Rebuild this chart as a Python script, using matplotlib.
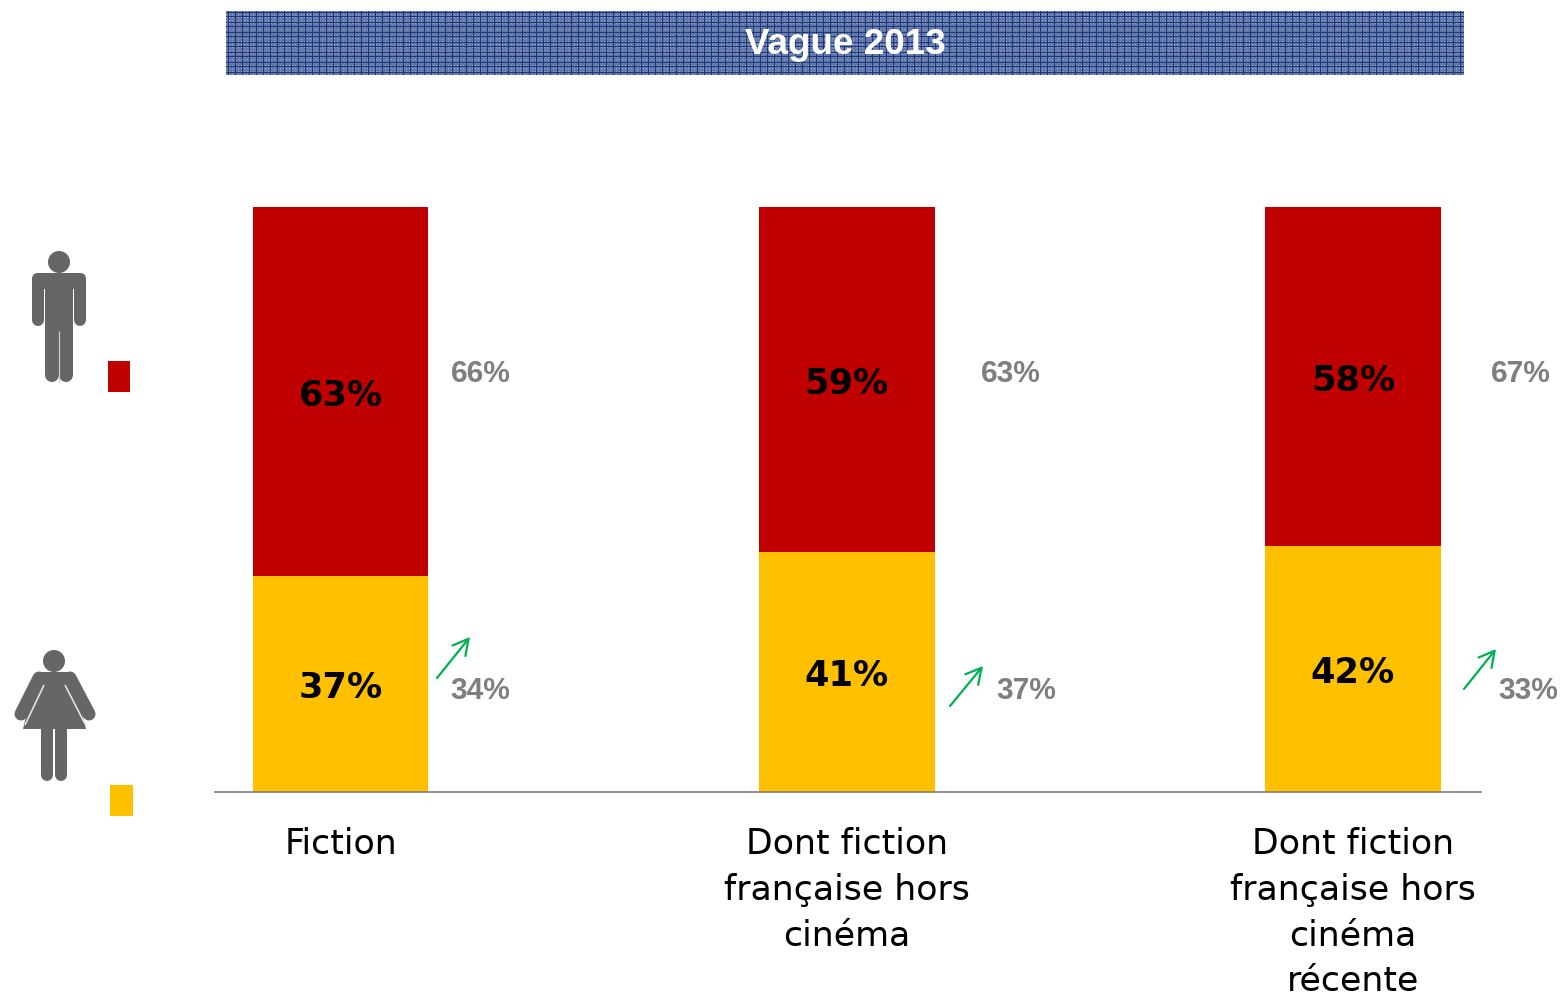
import numpy as np
import matplotlib
matplotlib.use('Agg')
import matplotlib.pyplot as plt
from matplotlib.patches import Circle, FancyBboxPatch, Polygon, Rectangle

plt.rcParams['text.hinting'] = 'no_autohint'

categories = ['Fiction', 'Dont fiction\nfrançaise hors\ncinéma', 'Dont fiction\nfrançaise hors\ncinéma\nrécente']
women = [37, 41, 42]
men = [63, 59, 58]
women_prev = [34, 37, 33]
men_prev = [66, 63, 67]

W, H = 1561, 997
RED = '#C00000'
YELLOW = '#FFC000'
GREY = '#7F7F7F'
ICON = '#666666'
GREEN = '#00B050'

fig = plt.figure(figsize=(W / 100, H / 100), dpi=100)

# axes principal : barres empilees
ax = fig.add_axes([215 / W, 1 - 792 / H, (1481 - 215) / W, (792 - 207) / H])
x = np.arange(len(categories))
ax.bar(x, women, width=0.347, color=YELLOW)
ax.bar(x, men, width=0.347, bottom=women, color=RED)
ax.set_xlim(-0.248, 2.253)
ax.set_ylim(0, 100)
ax.set_yticks([])
ax.set_xticks(x)
ax.set_xticklabels(categories, fontsize=25, family='DejaVu Sans', linespacing=1.435)
ax.tick_params(axis='x', length=0, pad=25.3)
for s in ['top', 'left', 'right']:
    ax.spines[s].set_visible(False)
ax.spines['bottom'].set_color('#7F7F7F')
ax.spines['bottom'].set_linewidth(1.2)

for i in range(len(x)):
    ax.text(x[i], women[i] / 2 - 0.7, f'{women[i]}%', ha='center', va='center',
            fontsize=25.3, fontweight='bold', color='black')
    ax.text(x[i], women[i] + men[i] / 2 - 0.8, f'{men[i]}%', ha='center', va='center',
            fontsize=25.3, fontweight='bold', color='black')

# calque en pixels pour le bandeau, les icones et les fleches
ov = fig.add_axes([0, 0, 1, 1], facecolor='none')
ov.set_xlim(0, W)
ov.set_ylim(H, 0)
ov.axis('off')

# bandeau titre (trame)
bw, bh = 1238, 64
tex = np.zeros((bh, bw, 3))
yy, xx = np.mgrid[0:bh, 0:bw]
tex[:] = (0.38, 0.46, 0.65)
tex[(xx % 3 == 0) & (yy % 3 == 0)] = (0.60, 0.65, 0.77)
tex[(xx % 3 == 1) & (yy % 3 == 1)] = (0.50, 0.56, 0.72)
tex[(xx % 14 == 2) | (xx % 14 == 9)] = (0.10, 0.22, 0.50)
tex[(yy % 10 == 1) | (yy % 10 == 5)] = (0.10, 0.22, 0.50)
ov.imshow(tex, extent=(226, 1464, 75, 11), interpolation='nearest', aspect='auto', zorder=1)
ov.set_xlim(0, W)
ov.set_ylim(H, 0)
ov.text(845, 45, 'Vague 2013', ha='center', va='center', color='white', fontsize=26.5,
        fontweight='bold', family='Liberation Sans', zorder=3)

# carres de legende
ov.add_patch(Rectangle((108, 361), 22, 31, color=RED, lw=0))
ov.add_patch(Rectangle((110, 785), 23, 31, color=YELLOW, lw=0))


def stroke(xs, ys, w, color=ICON, cap='round'):
    ov.plot(xs, ys, color=color, lw=w * 0.72, solid_capstyle=cap)


# homme
ov.add_patch(Circle((59, 262), 11, color=ICON, lw=0))
ov.add_patch(FancyBboxPatch((32, 273), 54, 16, boxstyle='round,pad=0,rounding_size=6',
                            color=ICON, lw=0))
ov.add_patch(Rectangle((45, 285), 28, 48, color=ICON, lw=0))
stroke([38, 38], [280, 320], 12)
stroke([80, 80], [280, 320], 12)
stroke([52, 52], [325, 375], 14)
stroke([66, 66], [325, 375], 14)
stroke([59, 59], [331, 382], 1.3, color='#C8C8C8', cap='butt')

# femme
ov.add_patch(Circle((54, 661), 11, color=ICON, lw=0))
ov.add_patch(Polygon([(37, 672), (72, 672), (86, 729), (23, 729)], color=ICON, lw=0))
stroke([39, 21], [678, 714], 13)
stroke([70, 89], [678, 714], 13)
stroke([44, 25], [685, 725], 1.6, color='#E4E4E4', cap='butt')
stroke([65, 85], [685, 724], 1.6, color='#E4E4E4', cap='butt')
stroke([47, 47], [725, 775], 12)
stroke([61, 61], [725, 775], 12)

# valeurs de la vague precedente et fleches
men_px = [480.5, 1010.5, 1520.5]
women_px = [480, 1026, 1528]
arrows = [((437, 678), (470, 637)), ((950, 706), (983, 666)), ((1464, 689), (1496, 649))]
for i in range(len(x)):
    ov.text(men_px[i], 374, f'{men_prev[i]}%', ha='center', va='center', color=GREY,
            fontsize=21.5, fontweight='bold', family='Liberation Sans')
    ov.text(women_px[i], 691, f'{women_prev[i]}%', ha='center', va='center', color=GREY,
            fontsize=21.5, fontweight='bold', family='Liberation Sans')
    ov.annotate('', xy=arrows[i][1], xytext=arrows[i][0],
                arrowprops=dict(arrowstyle='->,head_length=1.1,head_width=0.6', color=GREEN,
                                lw=1.6, shrinkA=0, shrinkB=0))

fig.savefig('out.png', dpi=100)
